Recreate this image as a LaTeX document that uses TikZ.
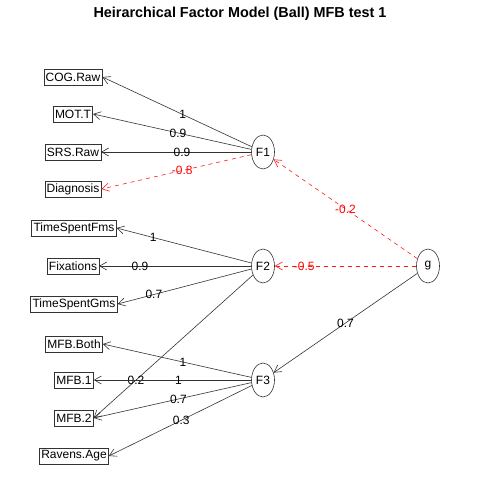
\documentclass[tikz,border=0pt]{standalone}
\usepackage{fontspec}
\setmainfont{Liberation Sans}
\usetikzlibrary{arrows.meta,calc,shapes.geometric}
\begin{document}
\begin{tikzpicture}[x=1pt,y=-1pt,
  obs/.style={draw=black!80,line width=0.6pt,inner xsep=1.8pt,inner ysep=0pt,minimum height=16pt,font=\fontsize{12}{12}\selectfont},
  lat/.style={draw=black!80,line width=0.6pt,ellipse,minimum width=23pt,minimum height=34pt,inner sep=0pt,font=\fontsize{12}{12}\selectfont},
  poslink/.style={draw=black!80,line width=0.6pt,-{Straight Barb[length=7pt,width=8pt]}},
  neglink/.style={draw=red!90,line width=0.6pt,dash pattern=on 4pt off 4pt,-{Straight Barb[length=7pt,width=8pt]}},
  lab/.style={inner sep=0pt,font=\fontsize{12}{12}\selectfont},
  nlab/.style={inner sep=0pt,font=\fontsize{12}{12}\selectfont,text=red}]
\useasboundingbox (0,0) rectangle (480,480);
\fill[white] (0,0) rectangle (480,480);
\node[anchor=base,font=\fontsize{14.4}{14.4}\selectfont\bfseries] (title) at (240,17) {Heirarchical Factor Model (Ball) MFB test 1};
% observed
\node[obs] (cog) at (73,77) {COG.Raw};
\node[obs] (mot) at (73,114) {MOT.T};
\node[obs] (srs) at (73,152) {SRS.Raw};
\node[obs] (dia) at (73,189) {Diagnosis};
\node[obs] (tsf) at (74,228) {TimeSpentFms};
\node[obs] (fix) at (73,266) {Fixations};
\node[obs] (tsg) at (74,304) {TimeSpentGms};
\node[obs] (mfbb) at (74,344) {MFB.Both};
\node[obs] (mfb1) at (74,380) {MFB.1};
\node[obs] (mfb2) at (74,418) {MFB.2};
\node[obs] (rav) at (74,456) {Ravens.Age};
% latent
\node[lat] (F1) at (263,152) {F1};
\node[lat] (F2) at (263,266) {F2};
\node[lat] (F3) at (263,380) {F3};
\node[lat] (g) at (428,266) {g};
% F1
\draw[poslink] (F1) -- (cog.east);
\draw[poslink] (F1) -- (mot.east);
\draw[poslink] (F1) -- (srs.east);
\draw[neglink] (F1) -- (dia.east);
\node[lab] at ($(F1)!0.5!(cog.east)$) {1};
\node[lab] at ($(F1)!0.5!(mot.east)$) {0.9};
\node[lab] at ($(F1)!0.5!(srs.east)$) {0.9};
\node[nlab] at ($(F1)!0.5!(dia.east)$) {-0.8};
% F2
\draw[poslink] (F2) -- (tsf.east);
\draw[poslink] (F2) -- (fix.east);
\draw[poslink] (F2) -- (tsg.east);
\draw[poslink] (F2) -- (mfb2.east);
\node[lab] at ($(F2)!0.75!(tsf.east)$) {1};
\node[lab] at ($(F2)!0.75!(fix.east)$) {0.9};
\node[lab] at ($(F2)!0.75!(tsg.east)$) {0.7};
\node[lab] at ($(F2)!0.75!(mfb2.east)$) {0.2};
% F3
\draw[poslink] (F3) -- (mfbb.east);
\draw[poslink] (F3) -- (mfb1.east);
\draw[poslink] (F3) -- (mfb2.east);
\draw[poslink] (F3) -- (rav.east);
\node[lab] at ($(F3)!0.5!(mfbb.east)$) {1};
\node[lab] at ($(F3)!0.5!(mfb1.east)$) {1};
\node[lab] at ($(F3)!0.5!(mfb2.east)$) {0.7};
\node[lab] at ($(F3)!0.53!(rav.east)$) {0.3};
% g
\draw[neglink] (g) -- (F1);
\draw[neglink] (g) -- (F2);
\draw[poslink] (g) -- (F3);
\node[nlab] at ($(g)!0.5!(F1)$) {-0.2};
\node[nlab] at ($(g)!0.75!(F2)$) {-0.5};
\node[lab] at ($(g)!0.5!(F3)$) {0.7};
\end{tikzpicture}
\end{document}
